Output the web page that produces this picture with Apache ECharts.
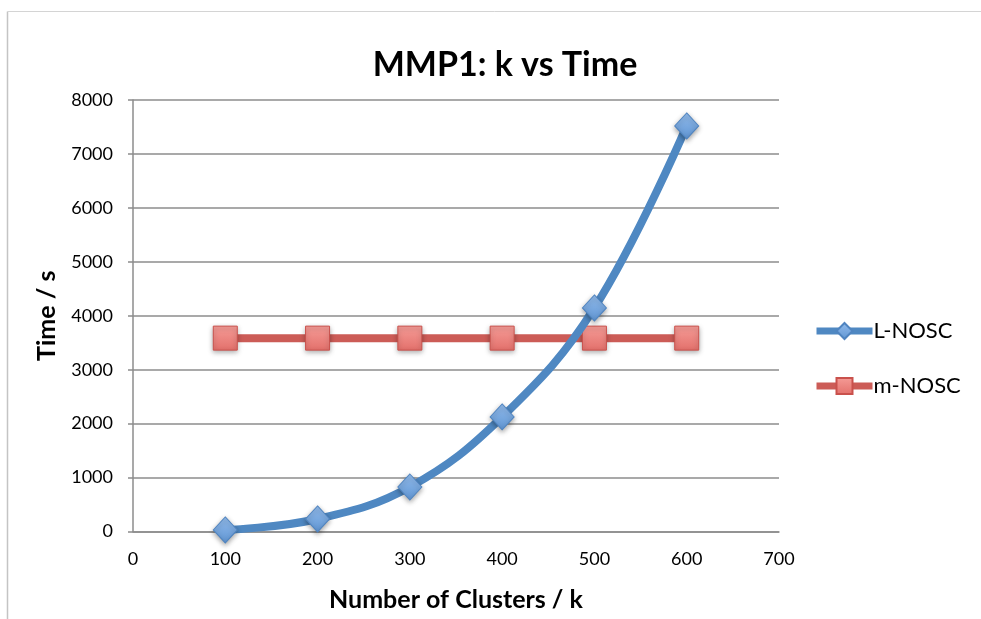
<!DOCTYPE html>
<html>
<head>
<meta charset="utf-8">
<script src="https://cdn.jsdelivr.net/npm/echarts@6/dist/echarts.min.js"></script>
<style>
  html, body { margin: 0; padding: 0; background: #fff; }
  #chart { width: 981px; height: 619px; }
</style>
</head>
<body>
<div id="chart"></div>
<script>
// Number of clusters k
const clusters = [100, 200, 300, 400, 500, 600];
// Run time in seconds per method
const lNosc = [28, 232, 825, 2125, 4145, 7520];
const mNosc = [3585, 3585, 3585, 3585, 3585, 3585];

const FONT = 'Lato, "Open Sans", sans-serif';

const chart = echarts.init(document.getElementById('chart'));

const pairs = (ys) => clusters.map((x, i) => [x, ys[i]]);

chart.setOption({
  animation: false,
  backgroundColor: '#ffffff',
  title: {
    text: 'MMP1: k vs Time',
    left: 500,
    top: 43,
    textAlign: 'center',
    textStyle: { fontFamily: FONT, fontSize: 34, fontWeight: 'bold', color: '#000' }
  },
  graphic: [
    { type: 'line', shape: { x1: 7.5, y1: 11.5, x2: 7.5, y2: 619 }, style: { stroke: '#c4c4c4', lineWidth: 1.5 } },
    { type: 'line', shape: { x1: 7.5, y1: 11.5, x2: 981, y2: 11.5 }, style: { stroke: '#d4d4d4', lineWidth: 1 } }
  ],
  legend: {
    orient: 'vertical',
    left: 808,
    top: 315,
    itemWidth: 56,
    itemHeight: 20,
    itemGap: 33,
    lineStyle: { width: 7 },
    textStyle: { fontFamily: FONT, fontSize: 22, color: '#000', padding: [0, 0, 0, -4] },
    data: ['L-NOSC', 'm-NOSC']
  },
  grid: { left: 133, right: 202, top: 100, bottom: 87.5, containLabel: false },
  xAxis: {
    type: 'value',
    min: 0,
    max: 700,
    interval: 100,
    name: 'Number of Clusters / k',
    nameLocation: 'middle',
    nameGap: 56,
    nameTextStyle: { fontFamily: FONT, fontSize: 25, fontWeight: 'bold', color: '#000' },
    axisLine: { show: true, lineStyle: { color: '#8c8c8c', width: 1.5 } },
    axisTick: { show: false },
    axisLabel: { fontFamily: FONT, fontSize: 18, color: '#000', margin: 19 },
    splitLine: { show: false }
  },
  yAxis: {
    type: 'value',
    min: 0,
    max: 8000,
    interval: 1000,
    name: 'Time / s',
    nameLocation: 'middle',
    nameGap: 74,
    nameRotate: 90,
    nameTextStyle: { fontFamily: FONT, fontSize: 25, fontWeight: 'bold', color: '#000' },
    axisLine: { show: true, lineStyle: { color: '#8c8c8c', width: 1.5 } },
    axisTick: { show: true, inside: false, length: 5, lineStyle: { color: '#8c8c8c', width: 1.5 } },
    axisLabel: { fontFamily: FONT, fontSize: 18, color: '#000', margin: 20, formatter: (v) => String(v) },
    splitLine: { show: true, lineStyle: { color: '#8c8c8c', width: 1.5 } }
  },
  series: [
    {
      name: 'L-NOSC',
      type: 'line',
      data: pairs(lNosc),
      smooth: 0.4,
      z: 3,
      symbol: 'diamond',
      symbolSize: [24, 26],
      lineStyle: { color: '#4f88c2', width: 8 },
      itemStyle: {
        color: new echarts.graphic.LinearGradient(0, 0, 0, 1, [
          { offset: 0, color: '#93bcec' },
          { offset: 1, color: '#5f95d3' }
        ]),
        borderColor: '#4f84c0',
        borderWidth: 1,
        shadowColor: 'rgba(0,0,0,0.35)',
        shadowBlur: 5,
        shadowOffsetY: 2
      }
    },
    {
      name: 'm-NOSC',
      type: 'line',
      data: pairs(mNosc),
      z: 2,
      symbol: 'rect',
      symbolSize: 24,
      lineStyle: { color: '#cc5c57', width: 8 },
      itemStyle: {
        color: new echarts.graphic.LinearGradient(0, 0, 0, 1, [
          { offset: 0, color: '#f59c97' },
          { offset: 1, color: '#e3706b' }
        ]),
        borderColor: '#c9514c',
        borderWidth: 1,
        shadowColor: 'rgba(0,0,0,0.35)',
        shadowBlur: 5,
        shadowOffsetY: 2
      }
    }
  ]
});
</script>
</body>
</html>
